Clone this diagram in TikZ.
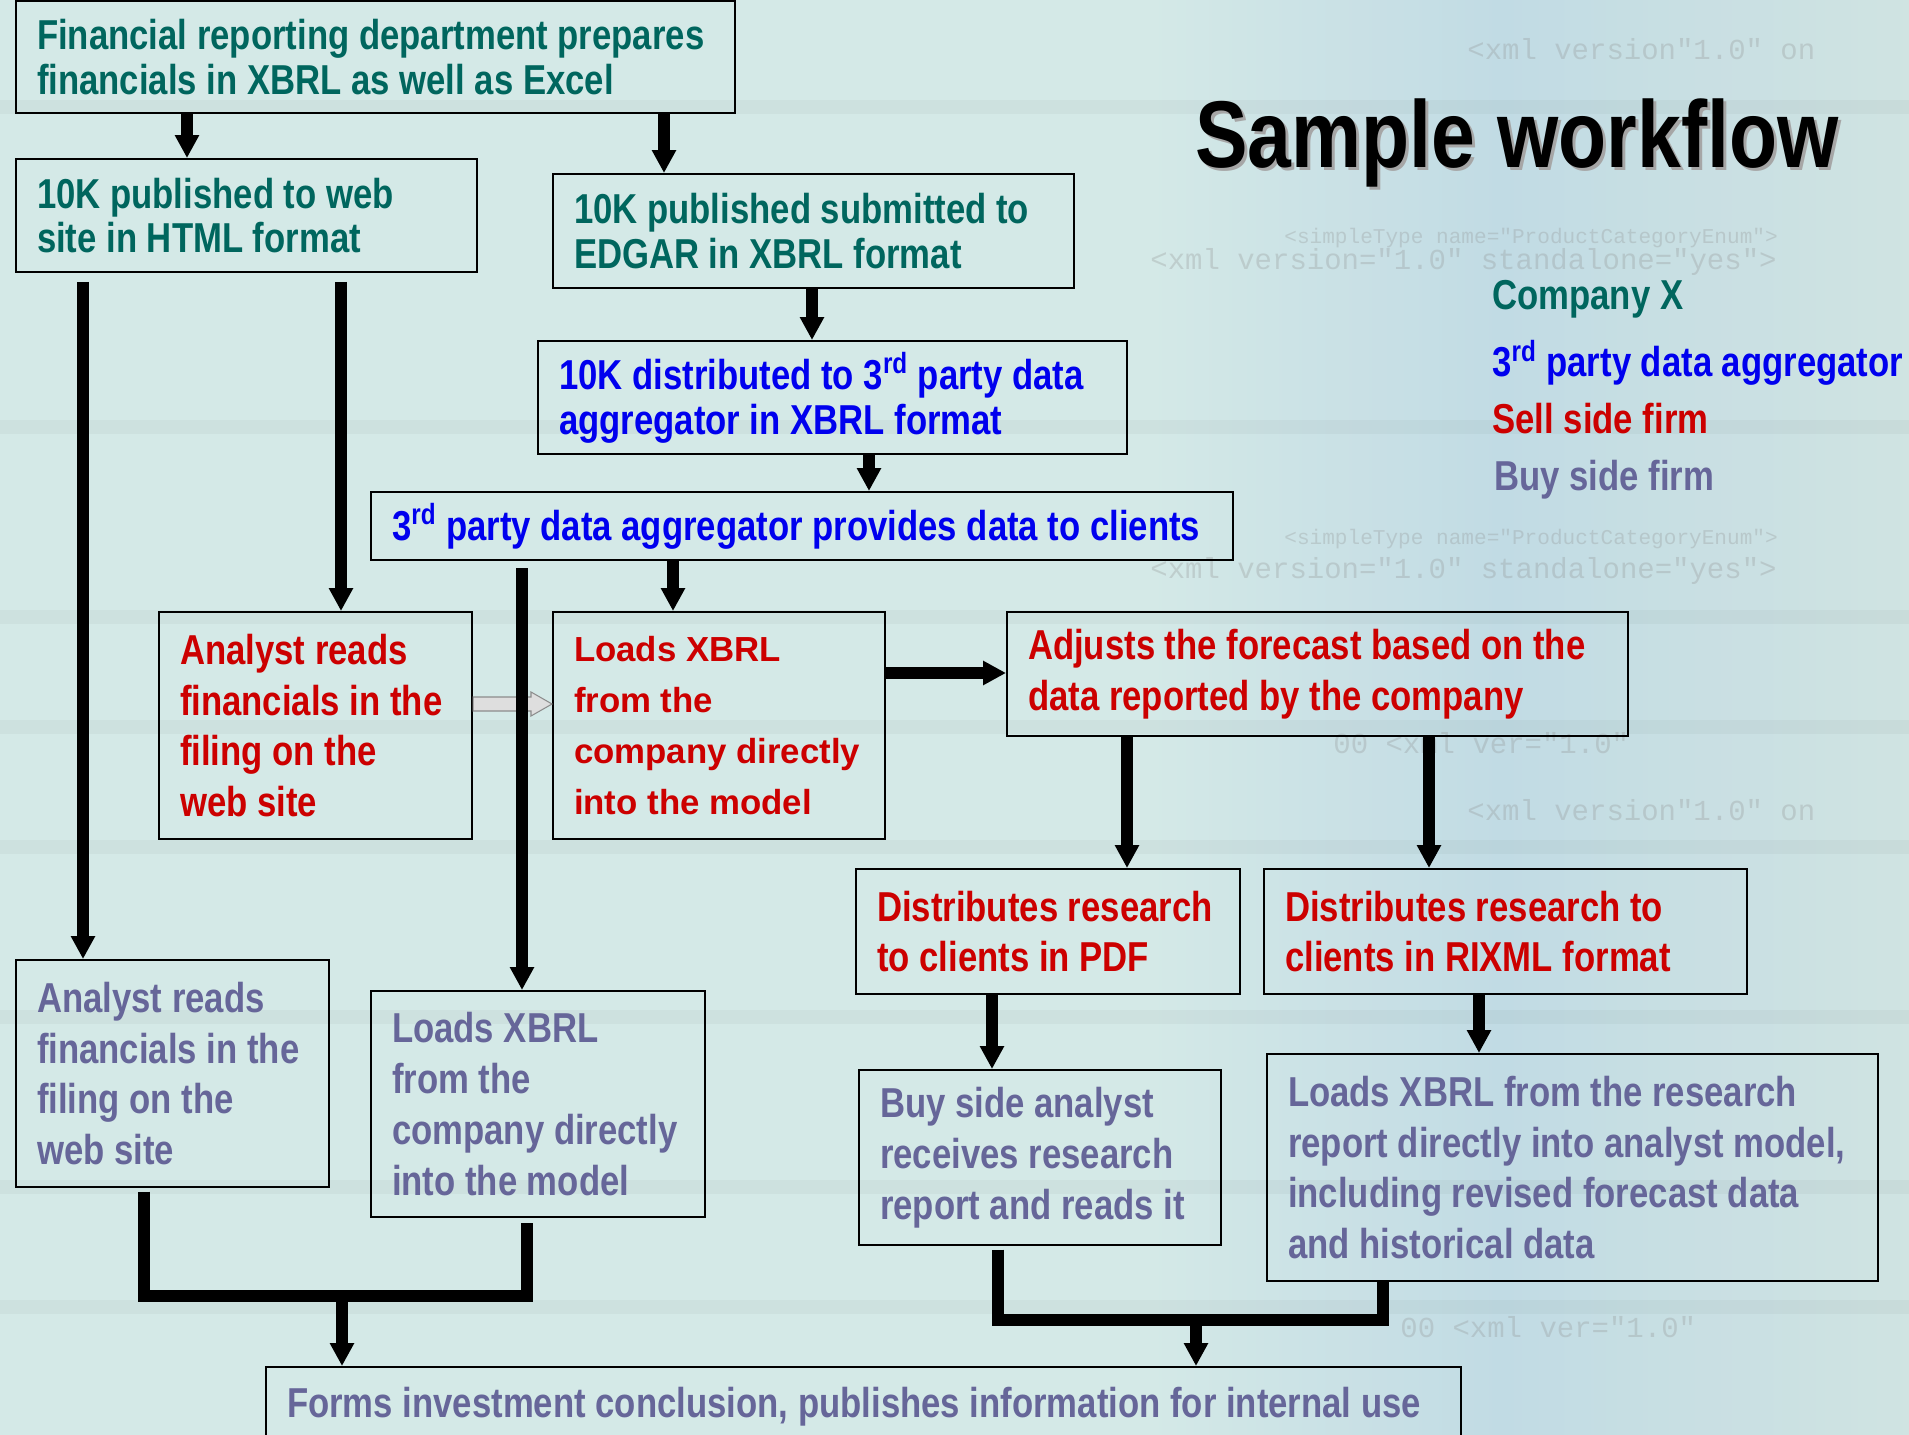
\documentclass[tikz,border=0pt]{standalone}
\usepackage{fontspec}
\setmainfont{Liberation Sans}
\newfontfamily\narrowsf{Liberation Sans}[FakeStretch=0.83]
\newfontfamily\codesf{Liberation Mono}
\usetikzlibrary{arrows.meta}

\definecolor{bgteal}{RGB}{212,233,231}
\definecolor{wmblue}{RGB}{192,218,228}
\definecolor{compteal}{RGB}{0,102,94}
\definecolor{aggblue}{RGB}{0,0,238}
\definecolor{sellred}{RGB}{204,0,0}
\definecolor{buypurple}{RGB}{102,102,153}
\definecolor{lightarrow}{RGB}{222,222,222}

\tikzset{
  box/.style={draw=black, line width=1.2pt, anchor=north west, align=flush left, inner xsep=0.42cm, inner ysep=0pt},
  tight/.style={font=\narrowsf\bfseries\fontsize{23.8}{25.5}\selectfont},
  loose/.style={font=\narrowsf\bfseries\fontsize{23.8}{28.9}\selectfont},
  flow/.style={line width=7pt, -{Triangle[width=13pt,length=13pt]}},
  merge/.style={line width=7pt, line join=miter},
  legend/.style={anchor=base west, inner sep=0pt, font=\narrowsf\bfseries\fontsize{23.8}{28}\selectfont},
  wmtext/.style={anchor=west, inner sep=0pt, text=black!45, opacity=0.28, font=\codesf\fontsize{16.5}{18}\selectfont},
  wmsmall/.style={wmtext, font=\codesf\fontsize{12}{14}\selectfont}
}

\begin{document}
\begin{tikzpicture}[x=0.02cm, y=-0.02cm]
  %%%%% BACKGROUND %%%%%
  \useasboundingbox (0,0) rectangle (1909,1435);
  \clip (0,0) rectangle (1909,1435);
  \fill[bgteal] (0,0) rectangle (1909,1435);
  \shade[left color=bgteal, right color=wmblue, opacity=0.9] (1150,0) rectangle (1500,1435);
  \shade[left color=wmblue, right color=bgteal!95!gray, opacity=0.9] (1500,0) rectangle (1909,1435);
  \foreach \yy in {100,420,610,720,840,1010,1180,1300} {
    \fill[black, opacity=0.03] (0,\yy) rectangle (1909,\yy+14);
  }

  \node[wmtext] (wm1) at (1467,49) {<xml version"1.0" on};
  \node[wmsmall] (wm2) at (1284,238) {<simpleType name="ProductCategoryEnum">};
  \node[wmtext] (wm3) at (1150,262) {<xml version="1.0" standalone="yes">};
  \node[wmsmall] (wm5) at (1284,539) {<simpleType name="ProductCategoryEnum">};
  \node[wmtext] (wm6) at (1150,571) {<xml version="1.0" standalone="yes">};
  \node[wmtext] (wm7) at (1333,743) {00 <xml ver="1.0"};
  \node[wmtext] (wm8) at (1467,810) {<xml version"1.0" on};
  \node[wmtext] (wm10) at (1400,1327) {00 <xml ver="1.0"};

  %%%%% TITLE AND KEY %%%%%
  \node[anchor=base west, inner sep=0pt, text=black!35, font=\narrowsf\bfseries\fontsize{54}{60}\selectfont] (titleshadow) at (1198,171) {Sample workflow};
  \node[anchor=base west, inner sep=0pt, font=\narrowsf\bfseries\fontsize{54}{60}\selectfont] (title) at (1195,168) {Sample workflow};

  \node[legend, text=compteal] (keycomp) at (1492,310) {Company X};
  \node[legend, text=aggblue] (keyagg) at (1492,377) {3\textsuperscript{rd} party data aggregator};
  \node[legend, text=sellred] (keysell) at (1492,434) {Sell side firm};
  \node[legend, text=buypurple] (keybuy) at (1494,491) {Buy side firm};

  %%%%% BOXES %%%%%
  \node[box, tight, text=compteal, text width=13.54cm, minimum height=2.24cm] (prep) at (15,0)
    {Financial reporting department prepares\\financials in XBRL as well as Excel};
  \node[box, tight, text=compteal, text width=8.38cm, minimum height=2.26cm] (web) at (15,158)
    {10K published to web\\site in HTML format};
  \node[box, tight, text=compteal, text width=9.58cm, minimum height=2.28cm] (edgar) at (552,173)
    {10K published submitted to\\EDGAR in XBRL format};
  \node[box, tight, text=aggblue, text width=10.94cm, minimum height=2.26cm] (distrib) at (537,340)
    {10K distributed to 3\textsuperscript{rd} party data\\aggregator in XBRL format};
  \node[box, tight, text=aggblue, text width=16.4cm, minimum height=1.36cm] (provides) at (370,491)
    {3\textsuperscript{rd} party data aggregator provides data to clients};

  \node[box, loose, text=sellred, text width=5.42cm, minimum height=4.54cm] (sellread) at (158,611)
    {Analyst reads\\financials in the\\filing on the\\web site};
  \node[box, text=sellred, font=\bfseries\fontsize{19.8}{28.9}\selectfont, text width=5.8cm, minimum height=4.54cm] (sellload) at (552,611)
    {Loads XBRL\\from the\\company directly\\into the model};
  \node[box, loose, text=sellred, text width=11.58cm, minimum height=2.48cm] (adjust) at (1006,611)
    {Adjusts the forecast based on the\\data reported by the company};
  \node[box, loose, text=sellred, text width=6.84cm, minimum height=2.5cm] (pdf) at (855,868)
    {Distributes research\\to clients in PDF};
  \node[box, loose, text=sellred, text width=8.82cm, minimum height=2.5cm] (rixml) at (1263,868)
    {Distributes research to\\clients in RIXML format};

  \node[box, loose, text=buypurple, text width=5.42cm, minimum height=4.54cm] (buyread) at (15,959)
    {Analyst reads\\financials in the\\filing on the\\web site};
  \node[box, loose, text=buypurple, text width=5.84cm, minimum height=4.52cm] (buyload) at (370,990)
    {Loads XBRL\\from the\\company directly\\into the model};
  \node[box, loose, text=buypurple, text width=6.4cm, minimum height=3.5cm] (receive) at (858,1069)
    {Buy side analyst\\receives research\\report and reads it};
  \node[box, loose, text=buypurple, text width=11.38cm, minimum height=4.54cm] (research) at (1266,1053)
    {Loads XBRL from the research\\report directly into analyst model,\\including revised forecast data\\and historical data};
  \node[box, tight, text=buypurple, text width=23.06cm, minimum height=1.6cm] (conclude) at (265,1366)
    {Forms investment conclusion, publishes information for internal use};

  %%%%% CONNECTORS %%%%%
  \filldraw[fill=lightarrow, draw=black!45, line width=0.6pt]
    (sellread.east |- 0,697) -- (531,697) -- (531,692) -- (sellload.west |- 0,704)
    -- (531,716) -- (531,711) -- (sellread.east |- 0,711) -- cycle;

  \draw[flow] (prep.south -| 187,0) -- (web.north -| 187,0);
  \draw[flow] (prep.south -| 664,0) -- (edgar.north -| 664,0);
  \draw[flow] (edgar.south -| 812,0) -- (distrib.north -| 812,0);
  \draw[flow] (distrib.south -| 869,0) -- (provides.north -| 869,0);
  \draw[flow] (provides.south -| 673,0) -- (sellload.north -| 673,0);
  \draw[flow, shorten <=5pt] (web.south -| 341,0) -- (sellread.north -| 341,0);
  \draw[flow, shorten <=5pt] (web.south -| 83,0) -- (buyread.north -| 83,0);
  \draw[flow, shorten <=4pt] (provides.south -| 522,0) -- (buyload.north -| 522,0);
  \draw[flow] (sellload.east |- 0,673) -- (adjust.west |- 0,673);
  \draw[flow] (adjust.south -| 1127,0) -- (pdf.north -| 1127,0);
  \draw[flow] (adjust.south -| 1429,0) -- (rixml.north -| 1429,0);
  \draw[flow] (pdf.south -| 992,0) -- (receive.north -| 992,0);
  \draw[flow] (rixml.south -| 1479,0) -- (research.north -| 1479,0);

  \coordinate (joinleft) at (342,1296);
  \coordinate (joinright) at (1196,1320);
  \draw[merge, shorten <=2pt] (buyread.south -| 144,0) -- (144,1296) -- (527,1296) -- ([yshift=-3pt]buyload.south -| 527,0);
  \draw[merge, shorten <=2pt] (receive.south -| 998,0) -- (998,1320) -- (1383,1320) -- (research.south -| 1383,0);
  \draw[flow] (joinleft) -- (conclude.north -| joinleft);
  \draw[flow] (joinright) -- (conclude.north -| joinright);
\end{tikzpicture}
\end{document}
